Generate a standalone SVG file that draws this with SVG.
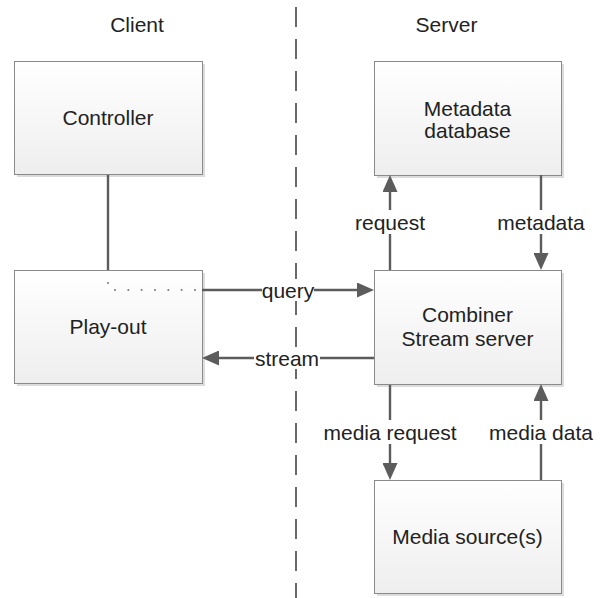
<svg xmlns="http://www.w3.org/2000/svg" width="601" height="598" viewBox="0 0 601 598">
<style>
.box{fill:url(#g);stroke:#8a8a8a;stroke-width:1}
.sh{fill:#dcdcdc}
.t{font-family:"Liberation Sans",Arial,sans-serif;font-size:21px;fill:#222;text-anchor:middle}
.c{fill:none;stroke:#5c5c5c;stroke-width:2.4}
.bg{fill:#fff}
</style>
<defs>
<linearGradient id="g" x1="0" y1="0" x2="0" y2="1">
<stop offset="0" stop-color="#ffffff"/>
<stop offset="1" stop-color="#eeeeee"/>
</linearGradient>
<marker id="a" viewBox="0 0 17 15" refX="11" refY="7.5" markerWidth="17" markerHeight="15" orient="auto" markerUnits="userSpaceOnUse">
<path d="M0,0 L17,7.5 L0,15 z" fill="#5c5c5c"/>
</marker>
</defs>
<rect width="601" height="598" fill="#fff"/>
<g id="divider">
<path d="M296,7 V598" stroke="#6a6a6a" stroke-width="2" stroke-dasharray="20 12"/>
</g>
<g id="titles">
<text class="t" x="137" y="32">Client</text>
<text class="t" x="446.5" y="32">Server</text>
</g>
<g id="controller">
<rect class="sh" x="17" y="64" width="188" height="113"/>
<rect class="box" x="14.5" y="61.5" width="188" height="113"/>
<text class="t" x="108" y="125">Controller</text>
</g>
<g id="playout">
<rect class="sh" x="17" y="273" width="188" height="113"/>
<rect class="box" x="14.5" y="270.5" width="188" height="113"/>
<text class="t" x="108" y="334">Play-out</text>
</g>
<g id="metadata-db">
<rect class="sh" x="377" y="64" width="187" height="114"/>
<rect class="box" x="374.5" y="61.5" width="187" height="114"/>
<text class="t" x="467.5" y="115.5">Metadata</text>
<text class="t" x="467.5" y="138">database</text>
</g>
<g id="combiner">
<rect class="sh" x="377" y="273" width="187" height="114"/>
<rect class="box" x="374.5" y="270.5" width="187" height="114"/>
<text class="t" x="467.5" y="322">Combiner</text>
<text class="t" x="467.5" y="346">Stream server</text>
</g>
<g id="media-source">
<rect class="sh" x="377" y="483" width="187" height="113"/>
<rect class="box" x="374.5" y="480.5" width="187" height="113"/>
<text class="t" x="467.5" y="544">Media source(s)</text>
</g>
<g id="connectors">
<path class="c" d="M108,175 V270"/>
<g fill="#777">
<circle cx="108" cy="283" r="1"/>
<circle cx="115" cy="290" r="1"/>
<circle cx="128.3" cy="290" r="1"/>
<circle cx="141.6" cy="290" r="1"/>
<circle cx="155" cy="290" r="1"/>
<circle cx="168.3" cy="290" r="1"/>
<circle cx="181.6" cy="290" r="1"/>
<circle cx="195" cy="290" r="1"/>
</g>
<path class="c" d="M202,290 H368" marker-end="url(#a)"/>
<path class="c" d="M374,358 H208" marker-end="url(#a)"/>
<path class="c" d="M390,270 V181" marker-end="url(#a)"/>
<path class="c" d="M541,175 V264" marker-end="url(#a)"/>
<path class="c" d="M390,385 V474" marker-end="url(#a)"/>
<path class="c" d="M541,480 V390" marker-end="url(#a)"/>
</g>
<g id="labels">
<rect class="bg" x="262" y="279" width="52" height="22"/>
<text class="t" x="288" y="297.5">query</text>
<rect class="bg" x="254" y="347" width="66" height="22"/>
<text class="t" x="287" y="365.5">stream</text>
<rect class="bg" x="354" y="210" width="72" height="24"/>
<text class="t" x="390" y="229.5">request</text>
<rect class="bg" x="496" y="210" width="90" height="24"/>
<text class="t" x="541" y="229.5">metadata</text>
<rect class="bg" x="322" y="420" width="136" height="24"/>
<text class="t" x="390" y="439.5">media request</text>
<rect class="bg" x="486" y="420" width="110" height="24"/>
<text class="t" x="541" y="439.5">media data</text>
</g>
</svg>
